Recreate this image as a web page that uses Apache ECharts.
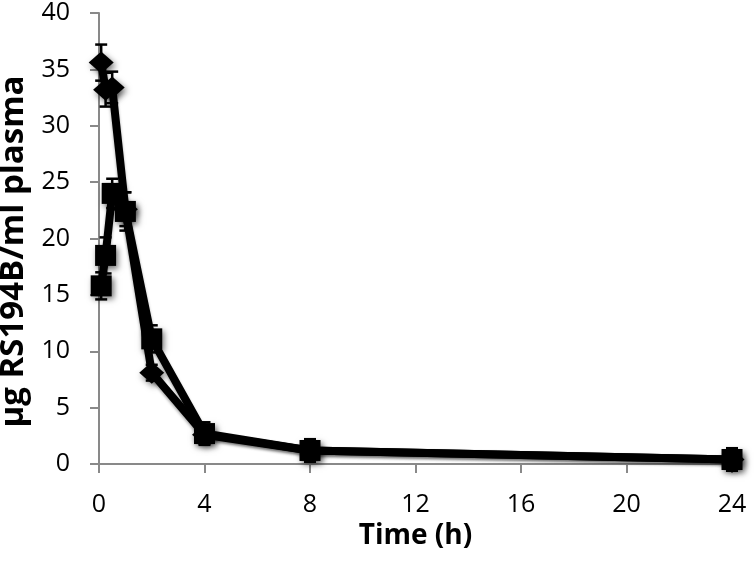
<!DOCTYPE html>
<html>
<head>
<meta charset="utf-8">
<script src="https://cdn.jsdelivr.net/npm/echarts@6/dist/echarts.min.js"></script>
<style>html,body{margin:0;padding:0;background:#fff}#c{width:755px;height:568px}</style>
</head>
<body>
<div id="c"></div>
<script>
const times = [0.083, 0.25, 0.5, 1, 2, 4, 8, 24];
const diamondVals = [35.6, 33.2, 33.4, 22.6, 8.1, 2.6, 1.2, 0.4];
const diamondErr = [1.6, 1.5, 1.4, 1.5, 0.7, 0.8, 0.9, 0.9];
const squareVals = [15.8, 18.5, 24.0, 22.4, 11.1, 2.7, 1.2, 0.4];
const squareErr = [1.2, 1.6, 1.3, 1.7, 1.2, 1.0, 1.0, 1.0];
const xTicks = [0, 4, 8, 12, 16, 20, 24];
const yTicks = [0, 5, 10, 15, 20, 25, 30, 35, 40];

const chart = echarts.init(document.getElementById('c'), null, {renderer: 'canvas'});

function pairs(vals) { return times.map((t, i) => [t, vals[i]]); }
function errData(vals, errs) { return times.map((t, i) => [t, vals[i] - errs[i], vals[i] + errs[i]]); }

function errRender(params, api) {
  const x = api.value(0);
  const lo = api.coord([x, api.value(1)]);
  const hi = api.coord([x, api.value(2)]);
  const w = 6;
  const st = {stroke: '#000', lineWidth: 2.5};
  return {
    type: 'group',
    children: [
      {type: 'line', shape: {x1: lo[0], y1: lo[1], x2: hi[0], y2: hi[1]}, style: st},
      {type: 'line', shape: {x1: lo[0] - w, y1: lo[1], x2: lo[0] + w, y2: lo[1]}, style: st},
      {type: 'line', shape: {x1: hi[0] - w, y1: hi[1], x2: hi[0] + w, y2: hi[1]}, style: st}
    ]
  };
}

const axisGray = '#898989';
const shadow = {shadowBlur: 6, shadowColor: 'rgba(0,0,0,0.55)', shadowOffsetX: 2, shadowOffsetY: 3};

chart.setOption({
  animation: false,
  backgroundColor: '#fff',
  grid: {left: 99, right: 23, top: 13, bottom: 104, containLabel: false, outerBoundsMode: 'none'},
  xAxis: {
    type: 'value', min: 0, max: 24, interval: 4,
    name: 'Time (h)', nameLocation: 'middle', nameGap: 35,
    nameTextStyle: {fontFamily: 'Open Sans', fontWeight: 'bold', fontSize: 28, color: '#000'},
    axisLine: {show: true, lineStyle: {color: axisGray, width: 2}},
    axisTick: {show: true, length: 9, lineStyle: {color: axisGray, width: 2}},
    axisLabel: {fontFamily: 'Open Sans', fontSize: 25, color: '#000', margin: 28,
      formatter: v => xTicks.includes(v) ? String(v) : ''},
    splitLine: {show: false}
  },
  yAxis: {
    type: 'value', min: 0, max: 40, interval: 5,
    name: 'µg RS194B/ml plasma', nameLocation: 'middle', nameGap: 57, nameRotate: 90,
    nameTextStyle: {fontFamily: 'Open Sans', fontWeight: 'bold', fontSize: 33, color: '#000', padding: [0, 26, 0, 0]},
    axisLine: {show: true, lineStyle: {color: axisGray, width: 2}},
    axisTick: {show: true, length: 9, lineStyle: {color: axisGray, width: 2}},
    axisLabel: {fontFamily: 'Open Sans', fontSize: 25, color: '#000', margin: 29,
      formatter: v => yTicks.includes(v) ? String(v) : ''},
    splitLine: {show: false}
  },
  series: [
    {type: 'custom', renderItem: errRender, data: errData(diamondVals, diamondErr), z: 1, encode: {x: 0, y: [1, 2]}},
    {type: 'custom', renderItem: errRender, data: errData(squareVals, squareErr), z: 1, encode: {x: 0, y: [1, 2]}},
    {type: 'line', data: pairs(diamondVals), z: 3, symbol: 'diamond', symbolSize: [25, 22],
      lineStyle: Object.assign({color: '#000', width: 8}, {shadowBlur: 3, shadowColor: 'rgba(0,0,0,0.35)', shadowOffsetY: 2}),
      itemStyle: Object.assign({color: '#000', borderWidth: 0}, shadow)},
    {type: 'line', data: pairs(squareVals), z: 4, symbol: 'rect', symbolSize: 21,
      lineStyle: Object.assign({color: '#000', width: 8}, {shadowBlur: 3, shadowColor: 'rgba(0,0,0,0.35)', shadowOffsetY: 2}),
      itemStyle: Object.assign({color: '#000', borderWidth: 0}, shadow)}
  ]
});
</script>
</body>
</html>
